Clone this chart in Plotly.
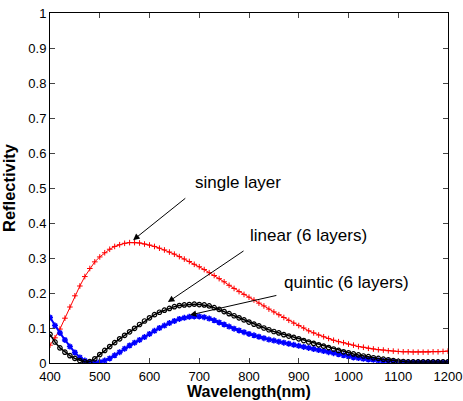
import plotly.graph_objects as go

wavelength = list(range(400, 1201, 10))

single_layer = [
    0.051, 0.072, 0.097, 0.128, 0.160, 0.192, 0.220, 0.247, 0.270, 0.289,
    0.303, 0.315, 0.325, 0.333, 0.338, 0.342, 0.344, 0.344, 0.343, 0.340,
    0.337, 0.333, 0.328, 0.323, 0.317, 0.311, 0.304, 0.297, 0.290, 0.282,
    0.275, 0.267, 0.258, 0.250, 0.241, 0.232, 0.222, 0.213, 0.204, 0.196,
    0.188, 0.180, 0.171, 0.163, 0.154, 0.146, 0.138, 0.130, 0.122, 0.114,
    0.107, 0.100, 0.092, 0.086, 0.080, 0.075, 0.070, 0.065, 0.061, 0.058,
    0.054, 0.051, 0.047, 0.045, 0.042, 0.040, 0.038, 0.037, 0.035, 0.034,
    0.033, 0.032, 0.032, 0.031, 0.031, 0.031, 0.031, 0.032, 0.032, 0.033,
    0.034,
]

linear_6 = [
    0.082, 0.060, 0.043, 0.031, 0.021, 0.013, 0.007, 0.003, 0.004, 0.012,
    0.024, 0.036, 0.047, 0.058, 0.069, 0.079, 0.089, 0.099, 0.110, 0.120,
    0.129, 0.138, 0.145, 0.151, 0.156, 0.161, 0.164, 0.166, 0.167, 0.168,
    0.167, 0.166, 0.163, 0.158, 0.153, 0.147, 0.141, 0.135, 0.129, 0.123,
    0.117, 0.111, 0.106, 0.100, 0.095, 0.090, 0.086, 0.081, 0.077, 0.073,
    0.069, 0.064, 0.060, 0.056, 0.052, 0.048, 0.044, 0.040, 0.036, 0.032,
    0.029, 0.026, 0.023, 0.020, 0.018, 0.015, 0.013, 0.011, 0.009, 0.007,
    0.005, 0.004, 0.003, 0.003, 0.003, 0.003, 0.003, 0.003, 0.003, 0.003,
    0.003,
]

quintic_6 = [
    0.130, 0.107, 0.086, 0.066, 0.047, 0.030, 0.016, 0.007, 0.002, 0.001,
    0.003, 0.007, 0.013, 0.022, 0.031, 0.041, 0.050, 0.058, 0.066, 0.074,
    0.083, 0.092, 0.100, 0.107, 0.114, 0.120, 0.126, 0.129, 0.132, 0.133,
    0.133, 0.131, 0.127, 0.122, 0.116, 0.110, 0.104, 0.098, 0.093, 0.088,
    0.083, 0.079, 0.075, 0.071, 0.067, 0.064, 0.061, 0.058, 0.055, 0.052,
    0.049, 0.046, 0.043, 0.040, 0.037, 0.034, 0.031, 0.028, 0.025, 0.022,
    0.019, 0.016, 0.014, 0.012, 0.010, 0.009, 0.007, 0.006, 0.005, 0.004,
    0.003, 0.002, 0.002, 0.002, 0.002, 0.002, 0.002, 0.002, 0.002, 0.002,
    0.002,
]

x_ticks = list(range(400, 1201, 100))
y_ticks = [round(i * 0.1, 1) for i in range(11)]
y_tick_text = ["0", "0.1", "0.2", "0.3", "0.4", "0.5", "0.6", "0.7", "0.8", "0.9", "1"]

fig = go.Figure()
fig.add_trace(go.Scatter(
    x=wavelength, y=single_layer, mode="lines+markers", name="single layer",
    line=dict(color="red", width=1),
    marker=dict(symbol="cross-thin", size=4, line=dict(color="red", width=1)),
))
fig.add_trace(go.Scatter(
    x=wavelength, y=quintic_6, mode="lines+markers", name="quintic (6 layers)",
    line=dict(color="blue", width=2),
    marker=dict(symbol="asterisk", size=5, line=dict(color="blue", width=1.5)),
))
fig.add_trace(go.Scatter(
    x=wavelength, y=linear_6, mode="lines+markers", name="linear (6 layers)",
    line=dict(color="black", width=1.5),
    marker=dict(symbol="circle-open", size=4.5, color="black", line=dict(color="black", width=1.2)),
))

font = "Liberation Sans, Arial, sans-serif"

labels = [
    dict(text="single layer", x=778, y=0.517, ax=675, ay=0.474, tx=567, ty=0.351),
    dict(text="linear (6 layers)", x=919, y=0.363, ax=792, ay=0.323, tx=637, ty=0.174),
    dict(text="quintic (6 layers)", x=996, y=0.231, ax=858, ay=0.194, tx=681, ty=0.137),
]
for lab in labels:
    fig.add_annotation(x=lab["x"], y=lab["y"], xref="x", yref="y", text=lab["text"],
                       showarrow=False, font=dict(family=font, size=17, color="black"))
    fig.add_annotation(x=lab["tx"], y=lab["ty"], ax=lab["ax"], ay=lab["ay"],
                       xref="x", yref="y", axref="x", ayref="y", text="",
                       showarrow=True, arrowhead=2, arrowsize=1.3, arrowwidth=1,
                       arrowcolor="black")

# x-axis title placed just below the tick labels
fig.add_annotation(x=0.5, y=-0.08, xref="paper", yref="paper", text="<b>Wavelength(nm)</b>",
                   showarrow=False, yanchor="middle",
                   font=dict(family=font, size=16, color="black"))

fig.update_layout(
    width=463, height=401,
    margin=dict(l=50, r=15, t=13, b=38),
    paper_bgcolor="white", plot_bgcolor="white",
    showlegend=False,
    font=dict(family=font, size=13, color="black"),
    xaxis=dict(
        range=[400, 1200], tickvals=x_ticks, ticks="inside", ticklen=5,
        ticklabelstandoff=1,
        showline=True, linecolor="black", linewidth=1, mirror="ticks",
        showgrid=False, zeroline=False, automargin=False,
    ),
    yaxis=dict(
        range=[0, 1], tickvals=y_ticks, ticktext=y_tick_text, ticks="inside", ticklen=5,
        showline=True, linecolor="black", linewidth=1, mirror="ticks",
        showgrid=False, zeroline=False, automargin=False,
        title=dict(text="<b>Reflectivity</b>", font=dict(size=16.5)),
    ),
)

fig.write_html("out.html")
